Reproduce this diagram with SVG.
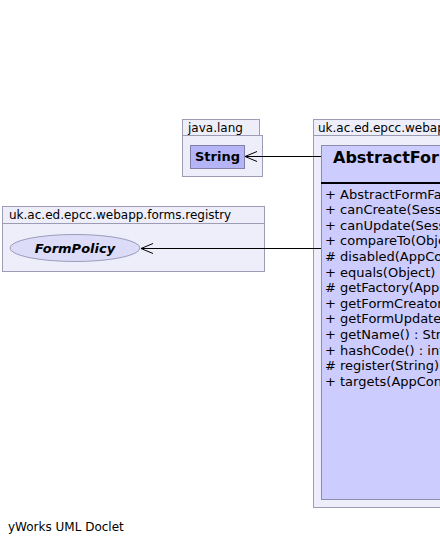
<svg xmlns="http://www.w3.org/2000/svg" width="440" height="545" viewBox="0 0 440 545">
<defs>
<style>
.pkg{fill:#eeeefa;stroke:#9c9cb4;stroke-width:1}
.cls{fill:#ccccfe;stroke:#8c8cac;stroke-width:1}
.t{font-family:"DejaVu Sans",sans-serif;font-size:12px;fill:#000}
.m{font-family:"DejaVu Sans",sans-serif;font-size:13px;fill:#000}
.edge{stroke:#000;stroke-width:1;fill:none}
</style>
<marker id="open" markerWidth="14" markerHeight="12" refX="13" refY="6" orient="auto" markerUnits="userSpaceOnUse">
<path d="M1,1 L13,6 L1,11" fill="none" stroke="#000" stroke-width="1"/>
</marker>
</defs>
<rect width="440" height="545" fill="#fff"/>
<g id="pkg-java-lang">
<rect class="pkg" x="182.5" y="119.5" width="77" height="16"/>
<rect class="pkg" x="182.5" y="135.5" width="80" height="41"/>
<text class="t" x="188" y="132">java.lang</text>
</g>
<g id="String">
<rect x="190.5" y="145.5" width="54" height="23" fill="#b4b4f6" stroke="#8080a8"/>
<text x="217.5" y="161" text-anchor="middle" font-family="DejaVu Sans,sans-serif" font-size="13" font-weight="bold">String</text>
</g>
<g id="pkg-registry">
<rect class="pkg" x="2.5" y="206.5" width="262" height="17"/>
<rect class="pkg" x="2.5" y="223.5" width="262" height="48"/>
<text class="t" x="9" y="219" font-size="12.4">uk.ac.ed.epcc.webapp.forms.registry</text>
</g>
<g id="FormPolicy">
<ellipse cx="75" cy="248" rx="65" ry="13.5" fill="#dcdcf8" stroke="#9c9cbc"/>
<text x="75" y="253" text-anchor="middle" font-family="DejaVu Sans,sans-serif" font-size="13" font-weight="bold" font-style="italic">FormPolicy</text>
</g>
<g id="pkg-main">
<rect class="pkg" x="313.5" y="119.5" width="140" height="16"/>
<rect class="pkg" x="313.5" y="135.5" width="140" height="372"/>
<text class="t" x="318" y="132" font-size="12.4">uk.ac.ed.epcc.webapp.forms</text>
</g>
<g id="AbstractFormFactory">
<rect class="cls" x="321.5" y="145.5" width="140" height="354"/>
<line x1="321" y1="183" x2="440" y2="183" stroke="#000" stroke-width="2"/>
<text x="333" y="163" font-family="DejaVu Sans,sans-serif" font-size="16" font-weight="bold">AbstractFormFactory</text>
<text class="m" x="325" y="198.5">+ AbstractFormFactory()</text>
<text class="m" x="325" y="214.1">+ canCreate(SessionService)</text>
<text class="m" x="325" y="229.7">+ canUpdate(SessionService)</text>
<text class="m" x="325" y="245.3">+ compareTo(Object)</text>
<text class="m" x="325" y="260.9"># disabled(AppContext)</text>
<text class="m" x="325" y="276.5">+ equals(Object) : boolean</text>
<text class="m" x="325" y="292.1"># getFactory(AppContext)</text>
<text class="m" x="325" y="307.7">+ getFormCreator()</text>
<text class="m" x="325" y="323.3">+ getFormUpdate()</text>
<text class="m" x="325" y="338.9">+ getName() : String</text>
<text class="m" x="325" y="354.5">+ hashCode() : int</text>
<text class="m" x="325" y="370.1"># register(String)</text>
<text class="m" x="325" y="385.7">+ targets(AppContext)</text>
</g>
<g id="connectors">
<line class="edge" x1="321" y1="156.5" x2="245" y2="156.5" marker-end="url(#open)"/>
<line class="edge" x1="321" y1="248.5" x2="141" y2="248.5" marker-end="url(#open)"/>
</g>
<text class="t" x="8" y="531">yWorks UML Doclet</text>
</svg>
